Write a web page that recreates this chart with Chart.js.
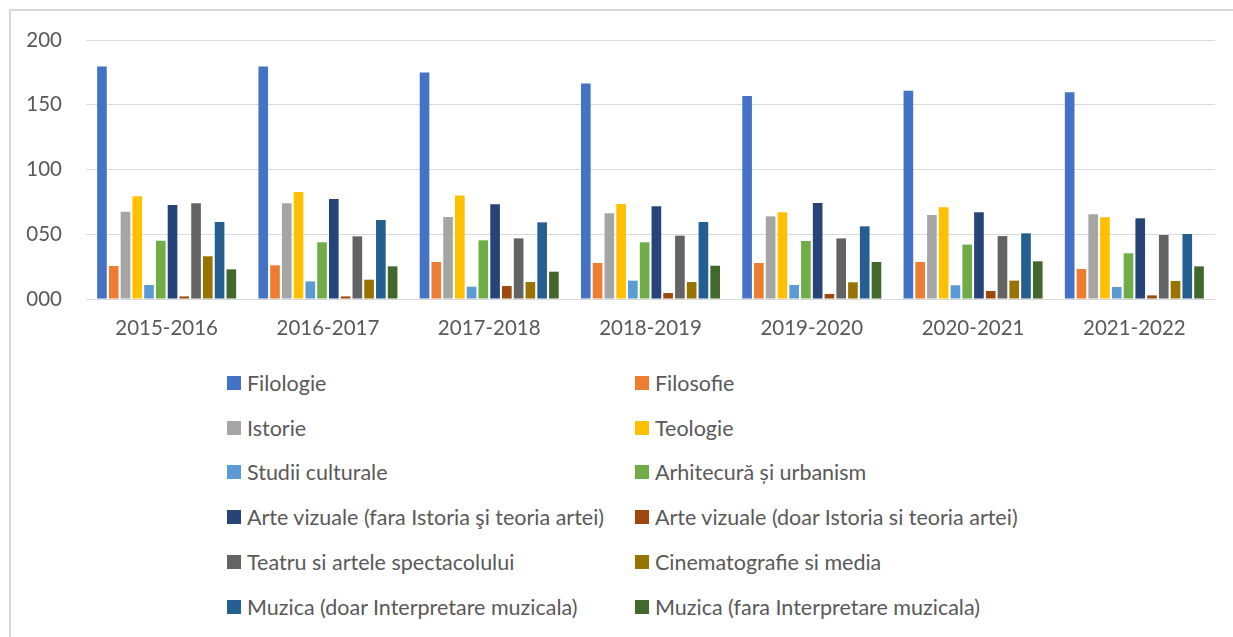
<!DOCTYPE html>
<html>
<head>
<meta charset="utf-8">
<script src="https://cdn.jsdelivr.net/npm/chart.js@4/dist/chart.umd.min.js"></script>
<style>
  html, body { margin: 0; padding: 0; background: #fff; }
  body { width: 1233px; height: 637px; position: relative; overflow: hidden; font-family: Lato, 'Noto Sans', sans-serif; }
  .frame { position: absolute; left: 9px; top: 9px; right: -2px; bottom: -2px; border-left: 2px solid #d9d9d9; border-top: 2px solid #d9d9d9; }
  #chart { position: absolute; left: 0; top: 0; }
  .legend { position: absolute; left: 0; top: 0; }
  .legend .item { position: absolute; height: 20px; display: flex; align-items: center; color: #595959; font-size: 21.5px; white-space: nowrap; }
  .legend .box { width: 14px; height: 14px; margin-right: 6px; flex: none; }
</style>
</head>
<body>
<div class="frame"></div>
<canvas id="chart" width="1233" height="340"></canvas>
<div class="legend" id="legend"></div>

<script>
(function () {
  'use strict';

  var years = ['2015-2016', '2016-2017', '2017-2018', '2018-2019', '2019-2020', '2020-2021', '2021-2022'];
  var yTicks = [0, 50, 100, 150, 200];

  var seriesNames = [
    'Filologie',
    'Filosofie',
    'Istorie',
    'Teologie',
    'Studii culturale',
    'Arhitecură și urbanism',
    'Arte vizuale (fara Istoria şi teoria artei)',
    'Arte vizuale (doar Istoria si teoria artei)',
    'Teatru si artele spectacolului',
    'Cinematografie si media',
    'Muzica (doar Interpretare muzicala)',
    'Muzica (fara Interpretare muzicala)'
  ];

  var seriesColors = [
    '#4472C4', '#ED7D31', '#A5A5A5', '#FFC000', '#5B9BD5', '#70AD47',
    '#264478', '#9E480E', '#636363', '#997300', '#255E91', '#43682B'
  ];

  // one array per field, values per academic year
  var filologie   = [179.5, 179.5, 175.0, 166.5, 156.8, 160.9, 159.6];
  var filosofie   = [25.5, 26.0, 28.6, 27.8, 27.8, 28.6, 23.2];
  var istorie     = [67.4, 74.0, 63.3, 66.2, 63.8, 64.9, 65.4];
  var teologie    = [79.3, 82.6, 80.0, 73.4, 66.9, 70.8, 63.1];
  var studii      = [10.8, 13.6, 9.5, 14.2, 10.8, 10.6, 9.3];
  var arhitectura = [45.0, 43.8, 45.3, 43.8, 44.8, 42.0, 35.3];
  var arteFara    = [72.6, 77.2, 73.1, 71.6, 74.1, 66.9, 62.3];
  var arteDoar    = [2.0, 2.0, 10.0, 4.6, 3.9, 6.2, 2.8];
  var teatru      = [73.9, 48.4, 46.8, 48.9, 46.8, 48.6, 49.4];
  var cinema      = [33.0, 14.9, 13.1, 13.1, 12.9, 14.2, 13.9];
  var muzicaDoar  = [59.5, 61.0, 59.2, 59.5, 56.1, 50.7, 50.2];
  var muzicaFara  = [22.9, 25.2, 21.1, 25.7, 28.6, 29.1, 25.2];

  var seriesValues = [
    filologie, filosofie, istorie, teologie, studii, arhitectura,
    arteFara, arteDoar, teatru, cinema, muzicaDoar, muzicaFara
  ];

  var tickFont = { family: 'Lato, "Noto Sans", sans-serif', size: 20.5 };

  var datasets = seriesNames.map(function (name, i) {
    return {
      label: name,
      data: seriesValues[i],
      backgroundColor: seriesColors[i],
      borderWidth: 0,
      categoryPercentage: 0.875,
      barPercentage: 0.82
    };
  });

  new Chart(document.getElementById('chart').getContext('2d'), {
    type: 'bar',
    data: { labels: years, datasets: datasets },
    options: {
      responsive: false,
      devicePixelRatio: 1,
      animation: false,
      layout: { padding: { left: 0, right: 18, top: 40, bottom: 0 } },
      plugins: {
        legend: { display: false },
        tooltip: { enabled: false }
      },
      scales: {
        x: {
          grid: { display: false, drawTicks: false },
          border: { display: false },
          ticks: { color: '#595959', font: tickFont, padding: 17, maxRotation: 0 },
          afterFit: function (scale) { scale.height = 41; }
        },
        y: {
          min: 0,
          max: 200,
          afterBuildTicks: function (scale) {
            scale.ticks = yTicks.map(function (v) { return { value: v }; });
          },
          grid: { color: '#d9d9d9', lineWidth: 1, drawTicks: false },
          border: { display: false },
          ticks: {
            color: '#595959',
            font: tickFont,
            padding: 24,
            callback: function (v) { return String(v).padStart(3, '0'); }
          },
          afterFit: function (scale) { scale.width = 86; }
        }
      }
    }
  });

  // two-column legend under the plot
  var legendEl = document.getElementById('legend');
  var colX = [227, 635];
  var rowY = 373;
  var rowStep = 44.7;
  seriesNames.forEach(function (name, i) {
    var item = document.createElement('div');
    item.className = 'item';
    item.style.left = colX[i % 2] + 'px';
    item.style.top = (rowY + Math.floor(i / 2) * rowStep) + 'px';
    var box = document.createElement('span');
    box.className = 'box';
    box.style.background = seriesColors[i];
    var txt = document.createElement('span');
    txt.textContent = name;
    item.appendChild(box);
    item.appendChild(txt);
    legendEl.appendChild(item);
  });
})();
</script>
</body>
</html>
